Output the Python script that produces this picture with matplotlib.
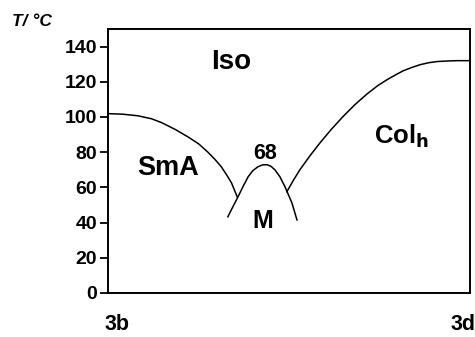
import matplotlib
matplotlib.use("Agg")
import matplotlib.pyplot as plt

plt.rcParams['font.family'] = ['Liberation Sans', 'DejaVu Sans']

# composition fraction (3b -> 3d) and temperatures (°C)
sma_x = [0.0, 0.04, 0.082, 0.12, 0.148, 0.185, 0.22, 0.25, 0.275, 0.295, 0.313, 0.328, 0.341, 0.357]
sma_T = [101.9, 101.6, 100.7, 99.0, 96.8, 93.0, 88.8, 84.8, 80.2, 76.0, 71.7, 67.0, 62.6, 54.6]

m_x = [0.331, 0.345, 0.359, 0.373, 0.387, 0.400, 0.414, 0.427, 0.439, 0.450, 0.461, 0.475, 0.489, 0.508, 0.522]
m_T = [43.3, 49.0, 54.6, 60.5, 66.0, 69.5, 71.7, 72.8, 72.9, 72.0, 70.0, 66.0, 60.3, 51.2, 41.5]

col_x = [0.494, 0.512, 0.53, 0.558, 0.586, 0.617, 0.649, 0.682, 0.715, 0.745, 0.771,
         0.795, 0.815, 0.84, 0.862, 0.885, 0.909, 0.936, 0.964, 1.0]
col_T = [57.5, 64.0, 70.0, 78.0, 85.4, 93.0, 100.2, 107.0, 113.0, 117.8, 121.2,
         124.0, 126.2, 128.2, 129.7, 130.8, 131.5, 131.8, 132.0, 132.0]

yticks = [0, 20, 40, 60, 80, 100, 120, 140]
compounds = ["3b", "3d"]

fig = plt.figure(figsize=(4.75, 3.37), dpi=100)
ax = fig.add_axes([0.2274, 0.1306, 0.9895 - 0.2274, 0.914 - 0.1306])

lw_curve = 1.1
ax.plot(sma_x, sma_T, color='black', lw=lw_curve)
ax.plot(m_x, m_T, color='black', lw=lw_curve)
ax.plot(col_x, col_T, color='black', lw=lw_curve)

ax.set_xlim(0, 1)
ax.set_ylim(0, 150)
ax.set_xticks([])
ax.set_yticks(yticks)
ax.set_yticklabels([str(v) for v in yticks], fontsize=14, fontweight='bold')
ax.tick_params(axis='y', direction='out', length=6, width=1.3, pad=2)
for s in ax.spines.values():
    s.set_linewidth(1.4)

# phase labels
ax.text(0.34, 131, "Iso", fontsize=20, fontweight='bold', ha='center', va='center')
ax.text(0.165, 71, "SmA", fontsize=19.5, fontweight='bold', ha='center', va='center')
ax.text(0.427, 41, "M", fontsize=18, fontweight='bold', ha='center', va='center')
ax.text(0.433, 79.5, "68", fontsize=15.5, fontweight='bold', ha='center', va='center')
ax.text(0.81, 89, r"Col$_\mathbf{h}$", fontsize=18.5, fontweight='bold', ha='center', va='center')

# axis title and compound labels
fig.text(12 / 475, 1 - 21 / 337, "T/ °C", fontsize=12.5, fontweight='bold', style='italic',
         ha='left', va='center')
ax.text(0.025, -0.12, compounds[0], transform=ax.transAxes, fontsize=15.5, fontweight='bold',
        ha='center', va='center')
ax.text(0.98, -0.12, compounds[1], transform=ax.transAxes, fontsize=15.5, fontweight='bold',
        ha='center', va='center')

fig.savefig("out.png", dpi=100)
